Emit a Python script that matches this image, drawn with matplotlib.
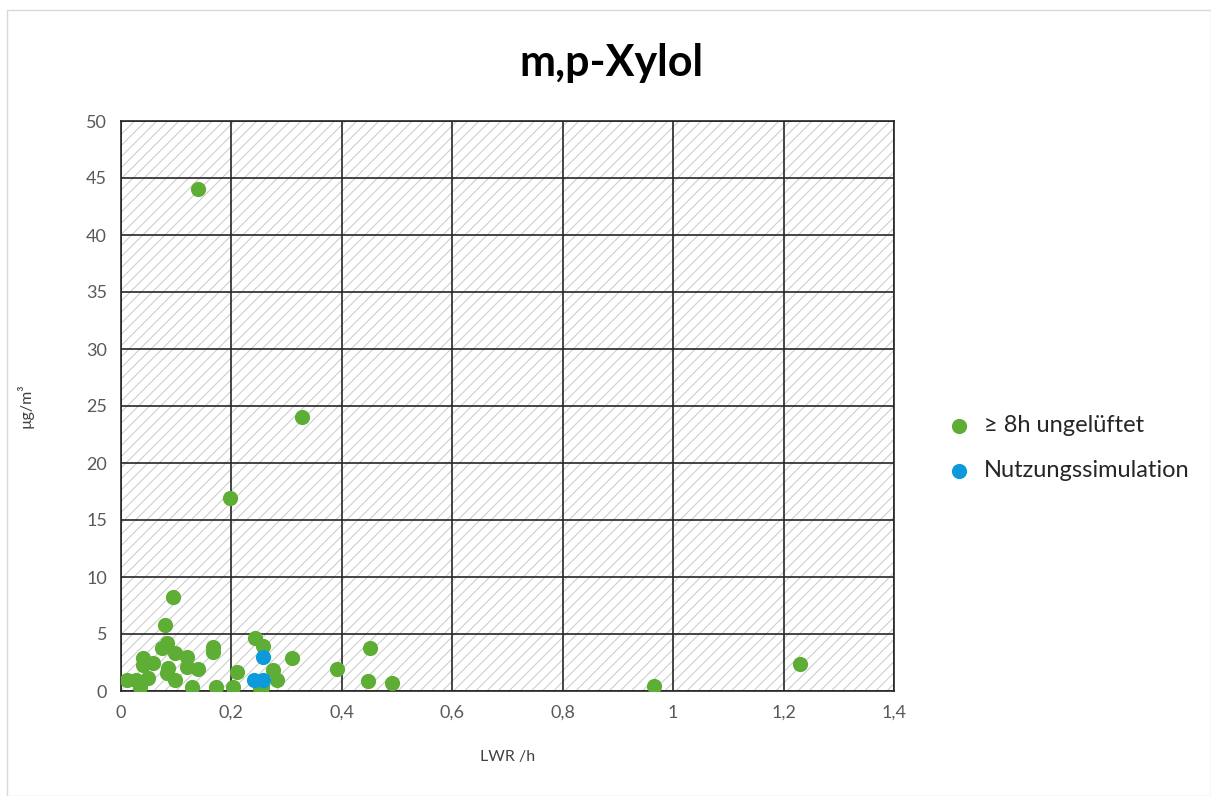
import matplotlib
matplotlib.use('Agg')
import matplotlib.pyplot as plt
from matplotlib.patches import Rectangle

plt.rcParams['font.family'] = ['Lato', 'DejaVu Sans']
plt.rcParams['hatch.linewidth'] = 0.7

# >= 8h ungelueftet
lwr_green = [0.0103, 0.028, 0.034, 0.040, 0.040, 0.0495, 0.0586, 0.0737, 0.0797, 0.0827,
             0.083, 0.0857, 0.0936, 0.098, 0.098, 0.119, 0.119, 0.128, 0.1395, 0.14,
             0.167, 0.167, 0.172, 0.1975, 0.2035, 0.2095, 0.243, 0.252, 0.255, 0.258,
             0.276, 0.282, 0.309, 0.328, 0.391, 0.448, 0.451, 0.490, 0.9656, 1.230]
conc_green = [0.96, 0.96, 0.38, 2.87, 2.28, 1.11, 2.48, 3.74, 5.79, 4.24,
              1.55, 1.99, 8.27, 3.36, 0.96, 3.0, 2.08, 0.38, 44.0, 1.9,
              3.9, 3.45, 0.38, 16.9, 0.38, 1.7, 4.62, 0.24, 0.38, 3.95,
              1.84, 0.96, 2.87, 24.0, 1.9, 0.9, 3.74, 0.73, 0.44, 2.37]

# Nutzungssimulation
lwr_blue = [0.258, 0.240, 0.258]
conc_blue = [2.95, 0.96, 0.96]

xticks = [0, 0.2, 0.4, 0.6, 0.8, 1.0, 1.2, 1.4]
xlabels = ['0', '0,2', '0,4', '0,6', '0,8', '1', '1,2', '1,4']
yticks = [0, 5, 10, 15, 20, 25, 30, 35, 40, 45, 50]

fig = plt.figure(figsize=(12.11, 7.96), dpi=100)
ax = fig.add_axes([121/1211, 1 - 691/796, (894-121)/1211, (691-121)/796])

# hatched plot area background
ax.add_patch(Rectangle((0, 0), 1, 1, transform=ax.transAxes, facecolor='white',
                       edgecolor='#c8c8c8', linewidth=0, hatch='///', zorder=0))

ax.scatter(lwr_green, conc_green, s=120, color='#5EAD35', linewidths=0, zorder=3,
           label='≥ 8h ungelüftet')
ax.scatter(lwr_blue, conc_blue, s=120, color='#0D9ADB', linewidths=0, zorder=4,
           label='Nutzungssimulation')

ax.set_xlim(0, 1.4)
ax.set_ylim(0, 50)
ax.set_xticks(xticks)
ax.set_xticklabels(xlabels)
ax.set_yticks(yticks)
ax.tick_params(length=0, labelsize=13, labelcolor='#595959', pad=10)
ax.grid(True, color='#262626', linewidth=1.2, zorder=1)
ax.set_axisbelow(True)
for s in ax.spines.values():
    s.set_color('#262626')
    s.set_linewidth(1.2)

ax.set_xlabel('LWR /h', fontsize=11.5, color='#404040', labelpad=21)
ax.set_ylabel('µg/m³', fontsize=11.5, color='#404040', labelpad=38)
fig.text(611/1211, 1 - 63/796, 'm,p-Xylol', fontsize=31, fontweight='bold',
         ha='center', va='center', color='black')

ax.legend(loc='center left', bbox_to_anchor=(914/1211, 1 - 448/796),
          bbox_transform=fig.transFigure, frameon=False, fontsize=17,
          handletextpad=0.05, labelspacing=1.0, markerscale=1.0, labelcolor='#262626')

# chart border
fig.add_artist(Rectangle((7/1211, 0), 1 - 7/1211, 1 - 10/796, transform=fig.transFigure,
                         fill=False, edgecolor='#d9d9d9', linewidth=1))

fig.savefig('out.png', dpi=100)
